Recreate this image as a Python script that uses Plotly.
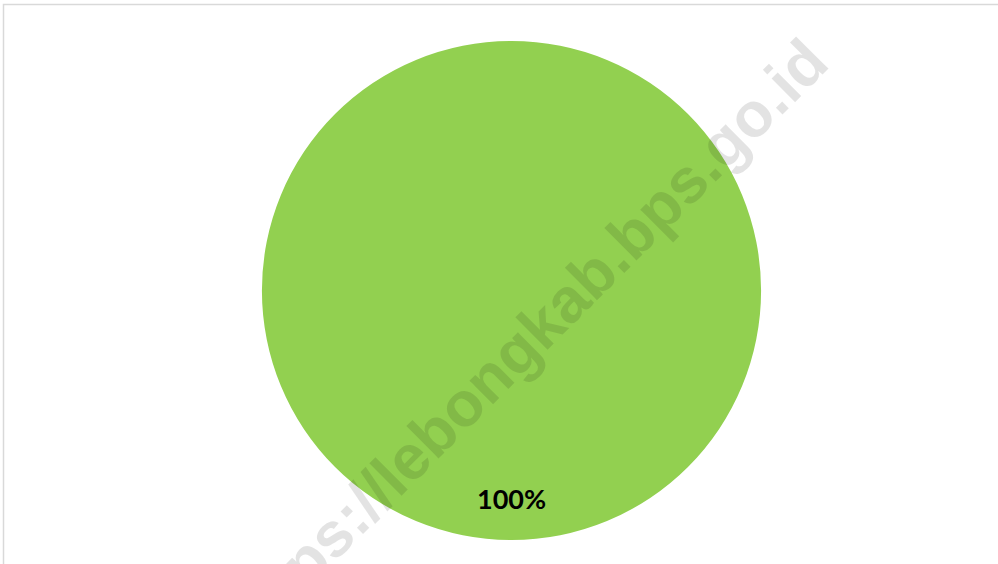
import plotly.graph_objects as go

# Chart data
labels = ["Total"]
values = [100]
colors = ["#92D050"]

W, H = 998, 564

# Pie geometry in pixels
cx, cy, r = 511.5, 290.5, 249.5

fig = go.Figure()
fig.add_trace(go.Pie(
    labels=labels,
    values=values,
    marker=dict(colors=colors, line=dict(width=0)),
    textinfo="none",
    hoverinfo="label+percent",
    sort=False,
    showlegend=False,
    domain=dict(x=[(cx - r) / W, (cx + r) / W],
                y=[1 - (cy + r) / H, 1 - (cy - r) / H]),
))

total = sum(values)
pct_text = f"{values[0] / total * 100:.0f}%"

annotations = [
    # percentage label near the bottom of the slice
    dict(text=f"<b>{pct_text}</b>", x=511 / W, y=1 - 498 / H,
         xref="paper", yref="paper", xanchor="center", yanchor="middle",
         showarrow=False, font=dict(family="Lato", size=27, color="#000000")),
    # diagonal site watermark
    dict(text="<b>https://lebongkab.bps.go.id</b>", x=525 / W, y=1 - 341 / H,
         xref="paper", yref="paper", xanchor="center", yanchor="middle",
         showarrow=False, textangle=-45,
         font=dict(family="Liberation Sans", size=63, color="rgba(0,0,0,0.11)")),
]

shapes = [
    # chart frame (top and left edges visible)
    dict(type="rect", xref="paper", yref="paper",
         x0=3.5 / W, x1=1.02, y0=-0.02, y1=1 - 4.5 / H,
         line=dict(color="#D9D9D9", width=1.5), fillcolor="rgba(0,0,0,0)",
         layer="below"),
]

fig.update_layout(
    width=W, height=H,
    margin=dict(l=0, r=0, t=0, b=0),
    paper_bgcolor="white",
    plot_bgcolor="white",
    annotations=annotations,
    shapes=shapes,
)

fig.write_html("out.html")
